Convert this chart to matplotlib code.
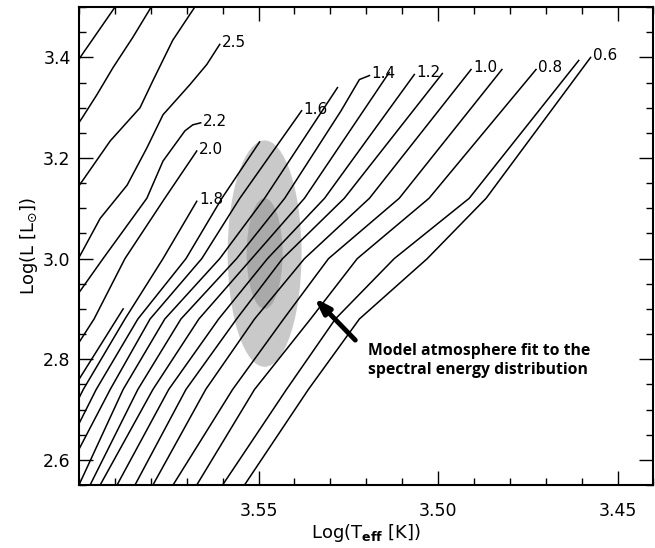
import numpy as np
import matplotlib.pyplot as plt
from matplotlib.patches import Ellipse

# evolutionary tracks, log Teff and log L, listed from the top end down
a_t = [3.5872, 3.5894, 3.5991, 3.6025]
a_l = [3.53, 3.506, 3.406, 3.37]
b_t = [3.5775, 3.5794, 3.5850, 3.5905, 3.5950, 3.5991, 3.6025]
b_l = [3.53, 3.506, 3.44, 3.38, 3.326, 3.28, 3.244]
c_t = [3.5650, 3.5672, 3.5739, 3.5794, 3.5830, 3.5913, 3.5991, 3.6025]
c_l = [3.53, 3.506, 3.434, 3.354, 3.30, 3.234, 3.154, 3.12]
m25_t = [3.5608, 3.5644, 3.5691, 3.5766, 3.5811, 3.5866, 3.5941, 3.5991, 3.6025]
m25_l = [3.426, 3.386, 3.346, 3.286, 3.22, 3.146, 3.08, 3.014, 2.97]
m22_t = [3.5661, 3.5683, 3.5705, 3.5766, 3.5811, 3.5933, 3.6052]
m22_l = [3.270, 3.266, 3.254, 3.194, 3.12, 3.00, 2.88]
m20_t = [3.5672, 3.5761, 3.5872, 3.5958, 3.6066]
m20_l = [3.214, 3.12, 3.00, 2.88, 2.76]
m19_t = [3.5877, 3.6000, 3.6052]
m19_l = [2.90, 2.76, 2.70]
m18_t = [3.5672, 3.5766, 3.5872, 3.5988, 3.6122]
m18_l = [3.114, 3.00, 2.88, 2.74, 2.55]
m17_t = [3.5497, 3.5602, 3.5702, 3.5836, 3.5952, 3.6086]
m17_l = [3.232, 3.12, 3.00, 2.88, 2.74, 2.55]
m16_t = [3.5380, 3.5552, 3.5658, 3.5802, 3.5913, 3.6052]
m16_l = [3.294, 3.12, 3.00, 2.88, 2.74, 2.55]
m15_t = [3.5280, 3.5483, 3.5608, 3.5761, 3.5877, 3.6000, 3.6027]
m15_l = [3.34, 3.12, 3.00, 2.88, 2.74, 2.55, 2.52]
m14_t = [3.5191, 3.5219, 3.5270, 3.5427, 3.5561, 3.5716, 3.5836, 3.5969, 3.5997]
m14_l = [3.364, 3.356, 3.294, 3.12, 3.00, 2.88, 2.74, 2.55, 2.52]
m13_t = [3.5136, 3.5372, 3.5519, 3.5666, 3.5794, 3.5941, 3.5969]
m13_l = [3.37, 3.12, 3.00, 2.88, 2.74, 2.55, 2.52]
m12_t = [3.5066, 3.5316, 3.5475, 3.5611, 3.5750, 3.5894, 3.5922]
m12_l = [3.366, 3.12, 3.00, 2.88, 2.74, 2.55, 2.52]
m11_t = [3.4988, 3.5261, 3.5433, 3.5561, 3.5702, 3.5844, 3.5872]
m11_l = [3.368, 3.12, 3.00, 2.88, 2.74, 2.55, 2.52]
m10_t = [3.4908, 3.5191, 3.5372, 3.5511, 3.5647, 3.5794, 3.5822]
m10_l = [3.376, 3.12, 3.00, 2.88, 2.74, 2.55, 2.52]
m09_t = [3.4822, 3.5108, 3.5305, 3.5430, 3.5572, 3.5738, 3.5766]
m09_l = [3.376, 3.12, 3.00, 2.88, 2.74, 2.55, 2.52]
m08_t = [3.4727, 3.5025, 3.5225, 3.5355, 3.5511, 3.5672, 3.5700]
m08_l = [3.376, 3.12, 3.00, 2.88, 2.74, 2.55, 2.52]
m07_t = [3.4608, 3.4913, 3.5122, 3.5286, 3.5422, 3.5600, 3.5627]
m07_l = [3.394, 3.12, 3.00, 2.88, 2.74, 2.55, 2.52]
m06_t = [3.4575, 3.4866, 3.5030, 3.5219, 3.5361, 3.5539, 3.5566]
m06_l = [3.40, 3.12, 3.00, 2.88, 2.74, 2.55, 2.52]

# SED fit confidence regions
fit_logt = 3.5483
fit_logl = 3.01
outer_w, outer_h = 0.0206, 0.45
inner_w, inner_h = 0.010, 0.22

tracks = [
    (None, a_t, a_l), (None, b_t, b_l), (None, c_t, c_l),
    ("2.5", m25_t, m25_l), ("2.2", m22_t, m22_l), ("2.0", m20_t, m20_l),
    (None, m19_t, m19_l), ("1.8", m18_t, m18_l), (None, m17_t, m17_l),
    ("1.6", m16_t, m16_l), (None, m15_t, m15_l), ("1.4", m14_t, m14_l),
    (None, m13_t, m13_l), ("1.2", m12_t, m12_l), (None, m11_t, m11_l),
    ("1.0", m10_t, m10_l), (None, m09_t, m09_l), ("0.8", m08_t, m08_l),
    (None, m07_t, m07_l), ("0.6", m06_t, m06_l),
]

fig = plt.figure(figsize=(6.55, 5.48), dpi=100)
ax = fig.add_axes([0.1206, 0.115, 0.877, 0.872])

ax.add_patch(Ellipse((fit_logt, fit_logl), outer_w, outer_h, color="#c9c9c9", lw=0, zorder=1))
ax.add_patch(Ellipse((fit_logt, fit_logl), inner_w, inner_h, color="#a9a9a9", lw=0, zorder=1))

for label, lt, ll in tracks:
    ax.plot(lt, ll, color="black", lw=1.1, zorder=2)
    if label:
        ax.annotate(label, (lt[0], ll[0]), xytext=(1.5, -2), textcoords="offset points",
                    fontsize=11, ha="left", va="baseline")

ax.annotate("", xy=(3.5350, 2.926), xytext=(3.5225, 2.834),
            arrowprops=dict(arrowstyle="-|>,head_width=0.3,head_length=0.9",
                            lw=3.5, color="black"))
ax.text(3.5196, 2.832, "Model atmosphere fit to the\nspectral energy distribution",
        fontsize=11.3, fontweight="bold", family="Open Sans", va="top", ha="left",
        linespacing=1.25)

ax.set_xlim(3.60, 3.44)
ax.set_ylim(2.55, 3.50)
ax.set_xticks([3.55, 3.50, 3.45])
ax.set_yticks([2.6, 2.8, 3.0, 3.2, 3.4])
ax.set_xticks(np.arange(3.44, 3.601, 0.01), minor=True)
ax.set_yticks(np.arange(2.55, 3.501, 0.05), minor=True)
ax.tick_params(which="both", direction="in", top=True, right=True, labelsize=12.5)
ax.tick_params(which="major", length=10, width=1)
ax.tick_params(which="minor", length=5, width=1)
ax.tick_params(axis="x", pad=12)
ax.tick_params(axis="y", pad=6)
for s in ax.spines.values():
    s.set_linewidth(1.5)

ax.set_xlabel(r"Log(T$_{\mathbf{eff}}$ [K])", fontsize=13, labelpad=2)
ax.set_ylabel(r"Log(L [L$_{\odot}$])", fontsize=13)
ax.yaxis.set_label_coords(-0.068, 0.5)

fig.savefig("out.png", dpi=100)
